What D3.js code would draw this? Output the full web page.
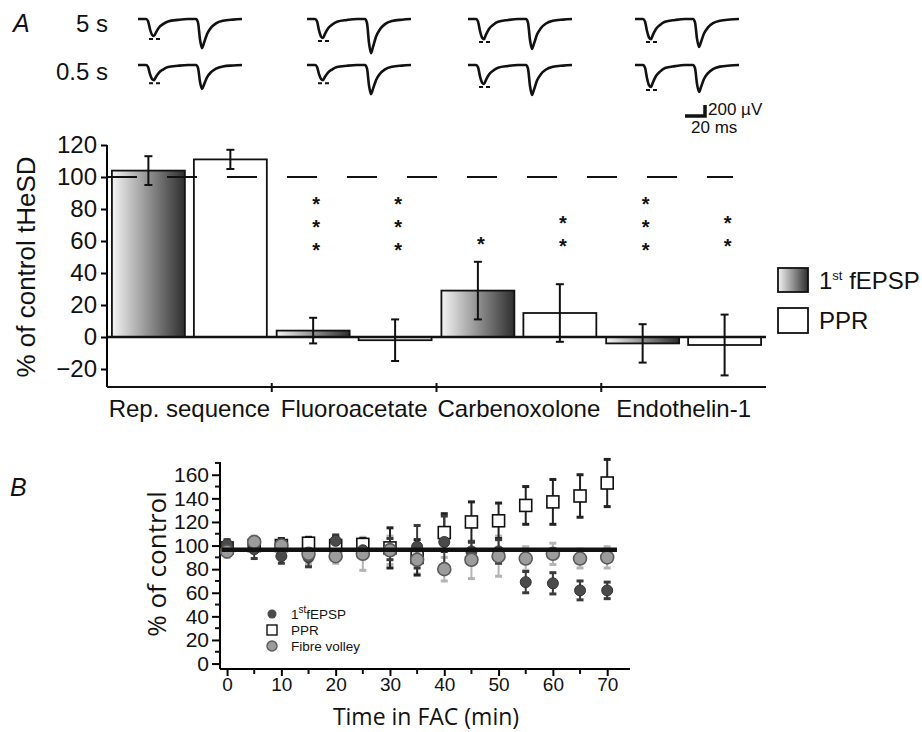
<!DOCTYPE html>
<html lang="en">
<head>
<meta charset="utf-8">
<title>FAC figure</title>
<script src="https://cdn.jsdelivr.net/npm/d3@7"></script>
<style>
  body { margin: 0; background: #fff; }
  svg text { font-family: "Liberation Sans", Arial, sans-serif; fill: #111; }
  .panel { font-style: italic; font-size: 25px; }
  .big { font-size: 24px; }
  .axisA text { font-size: 24px; }
  .axisB text { font-size: 21px; }
  .titleB { font-family: "Open Sans", sans-serif !important; font-size: 23px; }
  .legB { font-size: 13.5px; }
  .scale { font-size: 17px; }
  .star { font-size: 20px; font-weight: bold; }
</style>
</head>
<body>
<div id="chart"></div>
<script>
// ---- panel A data ----
var groups = ["Rep. sequence", "Fluoroacetate", "Carbenoxolone", "Endothelin-1"];
var fepspMean = [104, 4, 29, -4];
var fepspErr = [9, 8, 18, 12];
var pprMean = [111, -2, 15, -5];
var pprErr = [6, 13, 18, 19];
var fepspStars = [0, 3, 1, 3];
var pprStars = [0, 3, 2, 2];
var yTicksA = [-20, 0, 20, 40, 60, 80, 100, 120];

// example traces (ms, relative shape of 1st and 2nd response)
var waveT  = [0, 8, 10, 12, 14, 16, 18, 21, 25, 30, 40, 50, 58, 60, 62, 64, 66, 69, 73, 78, 85, 95, 104];
var wave1  = [0, 0, -0.12, -0.6, -0.92, -1, -0.78, -0.5, -0.3, -0.14, -0.05, 0, 0, 0, 0, 0, 0, 0, 0, 0, 0, 0, 0];
var wave2  = [0, 0, 0, 0, 0, 0, 0, 0, 0, 0, 0, 0, 0, -0.12, -0.7, -1, -0.82, -0.52, -0.3, -0.15, -0.06, -0.02, 0];
var traceRows = ["5 s", "0.5 s"];
var amp1 = [[310, 345, 365, 365], [275, 275, 345, 400]];   // µV
var amp2 = [[530, 620, 545, 510], [435, 530, 545, 490]];   // µV

// ---- panel B data ----
var times = [0, 5, 10, 15, 20, 25, 30, 35, 40, 45, 50, 55, 60, 65, 70];
var fepspB = [101, 97, 91, 90, 104, 96, 97, 99, 103, 95, 95, 69, 68, 62, 62];
var fepspBErr = [4, 8, 6, 8, 5, 7, 9, 18, 22, 8, 10, 9, 9, 8, 7];
var pprB = [98, 100, 100, 102, 100, 101, 98, 90, 111, 120, 121, 134, 137, 142, 153];
var pprBErr = [4, 6, 6, 5, 8, 5, 17, 15, 16, 17, 15, 16, 19, 18, 20];
var fvB = [95, 103, 100, 93, 91, 93, 96, 88, 80, 88, 91, 89, 93, 89, 90];
var fvBErr = [5, 5, 6, 9, 6, 14, 12, 12, 10, 16, 17, 10, 9, 8, 9];
var fitLevel = 96.5;

var w = 922, h = 732;
var svg = d3.select("#chart").append("svg").attr("width", w).attr("height", h);

var defs = svg.append("defs");
var grad = defs.append("linearGradient").attr("id", "gradF")
  .attr("x1", "0%").attr("x2", "100%").attr("y1", "0%").attr("y2", "0%");
grad.append("stop").attr("offset", "0%").attr("stop-color", "#f4f4f4");
grad.append("stop").attr("offset", "100%").attr("stop-color", "#2e2e2e");

// ================= Panel A traces =================
svg.append("text").attr("class", "panel").attr("x", 13).attr("y", 32).text("A");
svg.append("text").attr("class", "big").attr("x", 108).attr("y", 32).attr("text-anchor", "end").text(traceRows[0]);
svg.append("text").attr("class", "big").attr("x", 108).attr("y", 80).attr("text-anchor", "end").text(traceRows[1]);

var traceX0 = [138, 307, 468, 635];
var rowBase = [19, 65];
var tScale = d3.scaleLinear().domain([0, 20]).range([0, 20]);     // 20 ms = 20 px
var vScale = d3.scaleLinear().domain([0, -200]).range([0, 11]);   // 200 µV = 11 px

traceRows.forEach(function(r, ri) {
  traceX0.forEach(function(x0, ti) {
    var pts = waveT.map(function(t, i) {
      return [t, wave1[i] * amp1[ri][ti] + wave2[i] * amp2[ri][ti]];
    });
    var g = svg.append("g").attr("transform", "translate(" + x0 + "," + rowBase[ri] + ")");
    g.append("path")
      .attr("d", d3.line().x(function(d) { return tScale(d[0]); }).y(function(d) { return vScale(d[1]); }).curve(d3.curveMonotoneX)(pts))
      .attr("fill", "none").attr("stroke", "#111").attr("stroke-width", 2.6);
    g.append("line")
      .attr("x1", tScale(11)).attr("x2", tScale(23))
      .attr("y1", vScale(-amp1[ri][ti]) + 3).attr("y2", vScale(-amp1[ri][ti]) + 3)
      .attr("stroke", "#111").attr("stroke-width", 2).attr("stroke-dasharray", "4,3");
  });
});

// scale bar
var sb = svg.append("g").attr("transform", "translate(685,116)");
sb.append("path")
  .attr("d", "M0,0H" + tScale(20) + "V" + (-vScale(-200)))
  .attr("fill", "none").attr("stroke", "#111").attr("stroke-width", 3.5);
svg.append("text").attr("class", "scale").attr("x", 708).attr("y", 115).text("200 \u00b5V");
svg.append("text").attr("class", "scale").attr("x", 691).attr("y", 133).text("20 ms");

// ================= Panel A bars =================
var xA = d3.scaleBand().domain(groups).range([107, 766]).padding(0);
var xInner = d3.scaleBand().domain(["f", "p"]).range([0, xA.bandwidth()]).paddingInner(0.11).paddingOuter(0.06);
var yA = d3.scaleLinear().domain([-31.25, 120]).range([387, 145]);

var bars = [];
groups.forEach(function(gname, i) {
  bars.push({ g: gname, k: "f", v: fepspMean[i], e: fepspErr[i], s: fepspStars[i] });
  bars.push({ g: gname, k: "p", v: pprMean[i], e: pprErr[i], s: pprStars[i] });
});

svg.selectAll("rect.bar").data(bars).enter().append("rect")
  .attr("class", "bar")
  .attr("x", function(d) { return xA(d.g) + xInner(d.k); })
  .attr("width", xInner.bandwidth())
  .attr("y", function(d) { return yA(Math.max(0, d.v)); })
  .attr("height", function(d) { return Math.abs(yA(d.v) - yA(0)); })
  .attr("fill", function(d) { return d.k === "f" ? "url(#gradF)" : "#fff"; })
  .attr("stroke", "#111").attr("stroke-width", 1.8);

// dashed reference line at 100 (drawn over the bars)
svg.append("line")
  .attr("x1", 107).attr("x2", 733).attr("y1", yA(100)).attr("y2", yA(100))
  .attr("stroke", "#111").attr("stroke-width", 2).attr("stroke-dasharray", "30,30");

// zero line
svg.append("line").attr("x1", 107).attr("x2", 766).attr("y1", yA(0)).attr("y2", yA(0))
  .attr("stroke", "#111").attr("stroke-width", 2.6);

// error bars
var eb = svg.selectAll("g.eb").data(bars).enter().append("g").attr("class", "eb")
  .attr("transform", function(d) { return "translate(" + (xA(d.g) + xInner(d.k) + xInner.bandwidth() / 2) + ",0)"; });
eb.append("line").attr("y1", function(d) { return yA(d.v + d.e); }).attr("y2", function(d) { return yA(d.v - d.e); })
  .attr("stroke", "#111").attr("stroke-width", 2);
eb.append("line").attr("x1", -4).attr("x2", 4).attr("y1", function(d) { return yA(d.v + d.e); }).attr("y2", function(d) { return yA(d.v + d.e); })
  .attr("stroke", "#111").attr("stroke-width", 2);
eb.append("line").attr("x1", -4).attr("x2", 4).attr("y1", function(d) { return yA(d.v - d.e); }).attr("y2", function(d) { return yA(d.v - d.e); })
  .attr("stroke", "#111").attr("stroke-width", 2);

// significance stars
var starBase = { 1: 238, 2: 240, 3: 244 };
eb.filter(function(d) { return d.s > 0; }).each(function(d) {
  var col = d3.select(this);
  for (var k = 0; k < d.s; k++) {
    col.append("text").attr("class", "star")
      .attr("x", 3).attr("y", starBase[d.s] - 23 * k + 13)
      .attr("text-anchor", "middle").text("*");
  }
});

// axes
var yAxisA = d3.axisLeft(yA).tickValues(yTicksA).tickSize(6).tickPadding(4);
svg.append("g").attr("class", "axisA").attr("transform", "translate(107,0)").call(yAxisA)
  .call(function(g) {
    g.select(".domain").attr("stroke-width", 2).attr("d", "M0," + yA(120) + "V" + yA(-31.25));
    g.selectAll(".tick line").attr("stroke-width", 2);
  });
var xAxisA = svg.append("g").attr("transform", "translate(0,387)");
xAxisA.append("line").attr("x1", 107).attr("x2", 766).attr("stroke", "#111").attr("stroke-width", 2);
xAxisA.selectAll("line.sep").data(groups.slice(1)).enter().append("line")
  .attr("x1", function(d) { return xA(d); }).attr("x2", function(d) { return xA(d); })
  .attr("y1", -4).attr("y2", 5).attr("stroke", "#111").attr("stroke-width", 2);
xAxisA.selectAll("text").data(groups).enter().append("text")
  .attr("class", "big")
  .attr("x", function(d) { return xA(d) + xA.bandwidth() / 2; })
  .attr("y", 30).attr("text-anchor", "middle").text(function(d) { return d; });

svg.append("text").attr("class", "big").style("font-size", "26px")
  .attr("transform", "translate(35,267) rotate(-90)")
  .attr("text-anchor", "middle").text("% of control tHeSD");

// legend A
var legA = svg.append("g");
legA.append("rect").attr("x", 778).attr("y", 268).attr("width", 30).attr("height", 24)
  .attr("fill", "url(#gradF)").attr("stroke", "#111").attr("stroke-width", 1.8);
legA.append("rect").attr("x", 778).attr("y", 308).attr("width", 30).attr("height", 25)
  .attr("fill", "#fff").attr("stroke", "#111").attr("stroke-width", 1.8);
var t1 = legA.append("text").attr("class", "big").attr("x", 819).attr("y", 289);
t1.append("tspan").text("1");
t1.append("tspan").attr("font-size", "13px").attr("dy", -9).text("st");
t1.append("tspan").attr("dy", 9).text(" fEPSP");
legA.append("text").attr("class", "big").attr("x", 819).attr("y", 329).text("PPR");

// ================= Panel B =================
svg.append("text").attr("class", "panel").attr("x", 10).attr("y", 496).text("B");

var xB = d3.scaleLinear().domain([-1.3, 74.2]).range([220, 630]);
var yB = d3.scaleLinear().domain([-4.6, 170.8]).range([669, 462]);

// y axis with minor ticks
var gyB = svg.append("g").attr("class", "axisB").attr("transform", "translate(220,0)");
gyB.call(d3.axisLeft(yB).tickValues(d3.range(0, 161, 20)).tickSize(8).tickPadding(3))
  .call(function(g) {
    g.select(".domain").attr("stroke-width", 2).attr("d", "M0," + yB(170.8) + "V" + yB(-4.6));
    g.selectAll(".tick line").attr("stroke-width", 2);
  });
gyB.selectAll("line.minor").data(d3.range(10, 171, 20)).enter().append("line")
  .attr("x1", -5).attr("x2", 0).attr("y1", function(d) { return yB(d); }).attr("y2", function(d) { return yB(d); })
  .attr("stroke", "#111").attr("stroke-width", 2);

var gxB = svg.append("g").attr("class", "axisB").attr("transform", "translate(0,669)");
gxB.call(d3.axisBottom(xB).tickValues(d3.range(0, 71, 10)).tickSize(7).tickPadding(2))
  .call(function(g) {
    g.select(".domain").attr("stroke-width", 2).attr("d", "M220,0H630");
    g.selectAll(".tick line").attr("stroke-width", 2);
    g.selectAll(".tick text").style("font-size", "19px");
  });
gxB.selectAll("line.minor").data(d3.range(5, 71, 10)).enter().append("line")
  .attr("y1", 0).attr("y2", 5).attr("x1", function(d) { return xB(d); }).attr("x2", function(d) { return xB(d); })
  .attr("stroke", "#111").attr("stroke-width", 2);

svg.append("text").attr("class", "titleB").attr("x", 426).attr("y", 725).attr("text-anchor", "middle").text("Time in FAC (min)");
svg.append("text").attr("class", "titleB").style("font-size", "26px")
  .attr("transform", "translate(166,564) rotate(-90)").attr("text-anchor", "middle").text("% of control");

function errBars(vals, errs, color) {
  var g = svg.append("g");
  times.forEach(function(t, i) {
    var x = xB(t), y1 = yB(vals[i] + errs[i]), y2 = yB(vals[i] - errs[i]);
    g.append("line").attr("x1", x).attr("x2", x).attr("y1", y1).attr("y2", y2).attr("stroke", color).attr("stroke-width", 2);
    g.append("line").attr("x1", x - 3.5).attr("x2", x + 3.5).attr("y1", y1).attr("y2", y1).attr("stroke", color).attr("stroke-width", 3);
    g.append("line").attr("x1", x - 3.5).attr("x2", x + 3.5).attr("y1", y2).attr("y2", y2).attr("stroke", color).attr("stroke-width", 3);
  });
}
errBars(fvB, fvBErr, "#b4b4b4");
errBars(pprB, pprBErr, "#222");
errBars(fepspB, fepspBErr, "#3a3a3a");

svg.append("g").selectAll("rect").data(times).enter().append("rect")
  .attr("x", function(d) { return xB(d) - 6; })
  .attr("y", function(d, i) { return yB(pprB[i]) - 6; })
  .attr("width", 12).attr("height", 12)
  .attr("fill", "#fff").attr("stroke", "#111").attr("stroke-width", 1.6);
svg.append("g").selectAll("circle").data(times).enter().append("circle")
  .attr("cx", function(d) { return xB(d); })
  .attr("cy", function(d, i) { return yB(fepspB[i]); })
  .attr("r", 5.5).attr("fill", "#4a4a4a").attr("stroke", "#333").attr("stroke-width", 1);
svg.append("g").selectAll("circle").data(times).enter().append("circle")
  .attr("cx", function(d) { return xB(d); })
  .attr("cy", function(d, i) { return yB(fvB[i]); })
  .attr("r", 6.5).attr("fill", "#9c9c9c").attr("stroke", "#5a5a5a").attr("stroke-width", 1.6);

svg.append("line").attr("x1", xB(-1)).attr("x2", xB(71.8)).attr("y1", yB(fitLevel)).attr("y2", yB(fitLevel))
  .attr("stroke", "#111").attr("stroke-width", 4.5);

// legend B
var legB = svg.append("g");
legB.append("circle").attr("cx", 272).attr("cy", 614).attr("r", 4.5).attr("fill", "#4a4a4a");
legB.append("rect").attr("x", 267).attr("y", 625).attr("width", 10).attr("height", 10)
  .attr("fill", "#fff").attr("stroke", "#111").attr("stroke-width", 1.4);
legB.append("circle").attr("cx", 272).attr("cy", 646).attr("r", 5).attr("fill", "#9c9c9c").attr("stroke", "#5a5a5a").attr("stroke-width", 1.4);
var lt = legB.append("text").attr("class", "legB").attr("x", 291).attr("y", 619);
lt.append("tspan").text("1");
lt.append("tspan").attr("font-size", "10px").attr("dy", -6).text("st");
lt.append("tspan").attr("dy", 6).text("fEPSP");
legB.append("text").attr("class", "legB").attr("x", 291).attr("y", 635).text("PPR");
legB.append("text").attr("class", "legB").attr("x", 291).attr("y", 651).text("Fibre volley");
</script>
</body>
</html>
